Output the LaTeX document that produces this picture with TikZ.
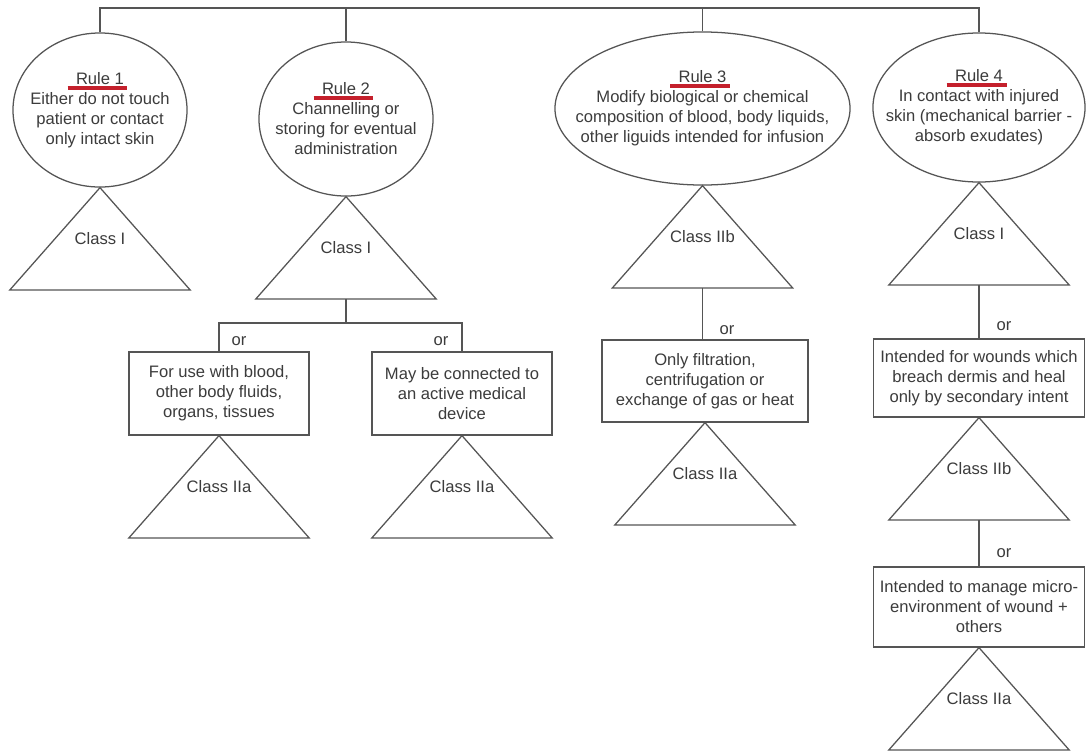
\documentclass[tikz,border=0pt]{standalone}
\usepackage{fontspec}
\setmainfont{Liberation Sans}
\usetikzlibrary{shapes.geometric,positioning}

\definecolor{inkgray}{HTML}{3C3C3C}
\definecolor{linegray}{HTML}{555555}
\definecolor{ulred}{RGB}{196,32,44}

% red bar under the rule titles
\newcommand{\ruletitle}[1]{\leavevmode\setbox0\hbox{#1}%
  \rlap{\hskip-6pt\textcolor{ulred}{\vrule width\dimexpr\wd0+8.5pt\relax height -1pt depth 3.8pt}}\box0}

\begin{document}
\begin{tikzpicture}[x=0.025cm,y=-0.025cm,line width=0.9pt,draw=linegray,
  every node/.style={font=\fontsize{11.8}{14.2}\selectfont,text=inkgray},
  bubble/.style={ellipse,draw,inner sep=0pt},
  bubbletext/.style={align=center,inner sep=0pt},
  tri/.style={minimum width=4.475cm,minimum height=2.525cm,inner sep=0pt,
    append after command={\pgfextra{\draw (\tikzlastnode.south west) -- (\tikzlastnode.north) -- (\tikzlastnode.south east) -- cycle;}}},
  box/.style={rectangle,draw,align=center,inner sep=0pt,minimum width=4.5cm,minimum height=2.075cm},
  orlabel/.style={inner sep=0pt}]
	\path[fill=white] (0,0) rectangle (1088,751);
	\useasboundingbox (0,0) rectangle (1088,751);

	% the four rules
	\node[bubble,minimum width=4.35cm,minimum height=3.85cm] (r1) at (100,110) {};
	\node[bubbletext] (r1t) at (r1) {\ruletitle{Rule 1}\\Either do not touch\\patient or contact\\only intact skin};
	\node[bubble,minimum width=4.35cm,minimum height=3.85cm] (r2) at (346,119) {};
	\node[bubbletext] (r2t) at (r2) {\ruletitle{Rule 2}\\Channelling or\\storing for eventual\\administration};
	\node[bubble,minimum width=7.375cm,minimum height=3.825cm] (r3) at (702.5,108.5) {};
	\node[bubbletext] (r3t) at (r3) {\ruletitle{Rule 3}\\Modify biological or chemical\\composition of blood, body liquids,\\other liguids intended for infusion};
	\node[bubble,minimum width=5.3cm,minimum height=3.725cm] (r4) at (979,107.5) {};
	\node[bubbletext] (r4t) at (r4) {\ruletitle{Rule 4}\\In contact with injured\\skin (mechanical barrier -\\absorb exudates)};

	\node[tri,below=0pt of r1] (t1) {Class I};
	\node[tri,below=0pt of r2] (t2) {Class I};
	\node[tri,below=0pt of r3] (t3) {Class IIb};
	\node[tri,below=0pt of r4] (t4) {Class I};

	% rule 2
	\node[box] (b2a) at (219,393.5) {For use with blood,\\other body fluids,\\organs, tissues};
	\node[box] (b2b) at (462,393.5) {May be connected to\\an active medical\\device};
	\node[tri,below=0pt of b2a] (t2a) {Class IIa};
	\node[tri,below=0pt of b2b] (t2b) {Class IIa};

	% rule 3
	\node[box,minimum width=5.15cm,minimum height=2.05cm] (b3) at (705,381) {Only filtration,\\centrifugation or\\exchange of gas or heat};
	\node[tri,below=0pt of b3] (t3b) {Class IIa};

	% rule 4
	\node[box,minimum width=5.275cm,minimum height=1.95cm] (b4a) at (979,378) {Intended for wounds which\\breach dermis and heal\\only by secondary intent};
	\node[tri,below=0pt of b4a] (t4b) {Class IIb};
	\node[box,minimum width=5.275cm,minimum height=2cm] (b4b) at (979,607) {Intended to manage micro-\\environment of wound +\\others};
	\node[tri,below=0pt of b4b] (t4c) {Class IIa};

	\node[orlabel] (or2a) at (239,341) {or};
	\node[orlabel] (or2b) at (441,341) {or};
	\node[orlabel] (or3) at (727,330) {or};
	\node[orlabel] (or4a) at (1004,326) {or};
	\node[orlabel] (or4b) at (1004,553) {or};

	% connectors
	\coordinate (bus) at (0,8);
	\coordinate (j2) at (346,323);
	\draw (r1.north) -- (r1.north |- bus) -- (r4.north |- bus) -- (r4.north);
	\draw (r2.north) -- (r2.north |- bus);
	\draw (r3.north) -- (r3.north |- bus);
	\draw (t2.south) -- (j2);
	\draw (b2a.north) |- (j2) -| (b2b.north);
	\draw (t3.south) -- (t3.south |- b3.north);
	\draw (t4.south) -- (t4.south |- b4a.north);
	\draw (t4b.south) -- (t4b.south |- b4b.north);
\end{tikzpicture}
\end{document}
